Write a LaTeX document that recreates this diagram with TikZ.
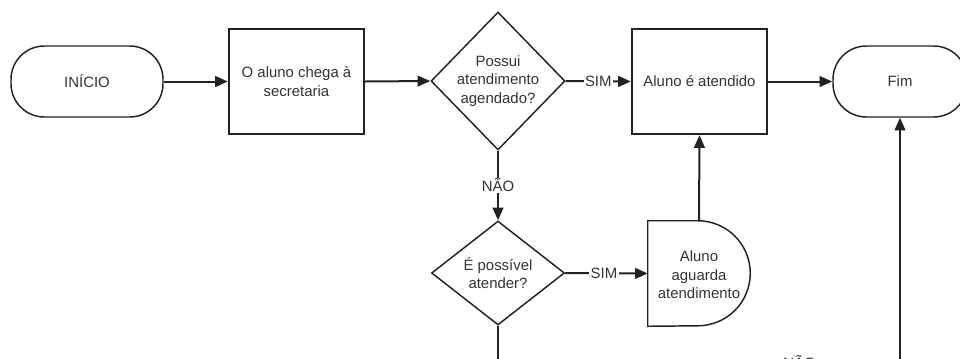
\documentclass[tikz,border=0pt]{standalone}
\usepackage{fontspec}
\setmainfont{Liberation Sans}
\usetikzlibrary{shapes.geometric,arrows.meta}
\definecolor{ln}{HTML}{222222}
\definecolor{tx}{HTML}{333333}
\begin{document}
\begin{tikzpicture}[x=0.75pt,y=-0.75pt,
  every node/.style={font=\fontsize{11.2}{13.8}\selectfont, text=tx, align=center},
  term/.style={draw=ln, line width=1.1pt, rounded corners=25pt, minimum width=114pt, minimum height=53.25pt, inner sep=0pt},
  procbox/.style={draw=ln, line width=1.7pt, minimum width=101.25pt, minimum height=78.75pt, inner sep=0pt},
  dia/.style={draw=ln, line width=1.1pt, shape=diamond, inner sep=0pt},
  conn/.style={draw=ln, line width=1.5pt, -{Triangle[length=9.5pt,width=8pt]}},
  lbl/.style={fill=white, inner sep=1pt}
]
\useasboundingbox (0,0) rectangle (960,358);
\clip (0,0) rectangle (960,358);

\node[term] (ini) at (87,81.5) {INÍCIO};
\node[procbox] (b1) at (296.5,81.5) {O aluno chega à\\secretaria};
\node[dia, minimum width=100.5pt, minimum height=103.5pt] (d1) at (498,81) {};
\node at (d1) {Possui\\atendimento\\agendado?};
\node[procbox] (b2) at (699.5,81.5) {Aluno é atendido};
\node[term, minimum width=100.5pt] (fim) at (900,81.5) {Fim};

\node[dia, minimum width=99.75pt, minimum height=78pt] (d2) at (498,273) {};
\node at (d2) {É possível\\atender?};

\node[minimum width=76.5pt, minimum height=78.75pt, inner sep=0pt] (dl) at (699,273.5) {};
\draw[ln, line width=1.1pt] (dl.north west) -- ([xshift=-39.4pt]dl.north east)
  arc[start angle=90, end angle=-90, radius=39.4pt] -- (dl.south west) -- cycle;
\node at ([yshift=-1pt]dl.center) {Aluno\\aguarda\\atendimento};

\coordinate (c1) at (498,362);
\coordinate (c2) at (900,362);

\draw[conn] (ini.east) -- (b1.west);
\draw[conn] (b1.east) -- (d1.west);
\draw[conn] (d1.east) -- node[lbl] {SIM} (b2.west);
\draw[conn] (b2.east) -- (fim.west);
\draw[conn] (d1.south) -- node[lbl] {NÃO} (d2.north);
\draw[conn] (d2.east) -- node[lbl, pos=0.47] {SIM} (dl.west);
\draw[conn] (dl.north) -- (b2.south);
\draw[conn] (d2.south) -- (c1) -- node[lbl, pos=0.75] {NÃO} (c2) -- (fim.south);
\end{tikzpicture}
\end{document}
